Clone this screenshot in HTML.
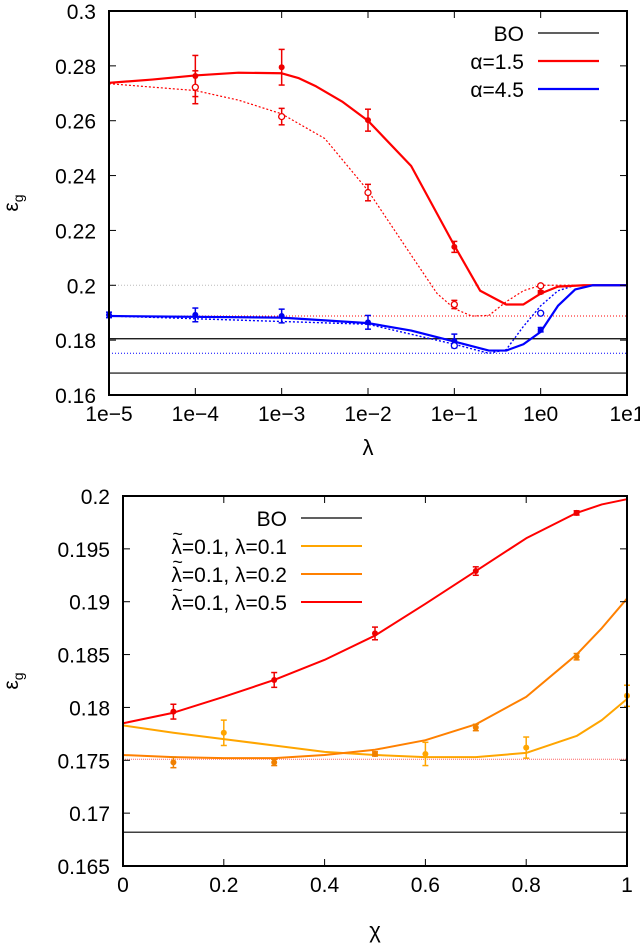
<!DOCTYPE html>
<html><head><meta charset="utf-8"><style>
html,body{margin:0;padding:0;background:#fff;}
svg{display:block;font-family:"Liberation Sans",sans-serif;}
</style></head><body>
<svg id="s" width="640" height="944" xmlns="http://www.w3.org/2000/svg"></svg>
<script>
// ---- top chart data (x = log10 lambda) ----
const topXTicks = [-5,-4,-3,-2,-1,0,1];
const topXLabels = ["1e\u22125","1e\u22124","1e\u22123","1e\u22122","1e\u22121","1e0","1e1"];
const topYTicks = [0.16,0.18,0.2,0.22,0.24,0.26,0.28,0.3];
const topYLabels = ["0.16","0.18","0.2","0.22","0.24","0.26","0.28","0.3"];
const redSolidX = [-5,-4.5,-4,-3.5,-3,-2.8,-2.6,-2.3,-2,-1.5,-1,-0.7,-0.4,-0.2,0,0.2,0.5,1];
const redSolidY = [0.2738,0.275,0.2765,0.2775,0.2773,0.2755,0.2725,0.267,0.260,0.2435,0.2145,0.198,0.193,0.193,0.197,0.1995,0.2,0.2];
const redPtsX = [-4,-3,-2,-1,0];
const redPtsY = [0.2763,0.2795,0.2602,0.214,0.1975];
const redPtsE = [0.0075,0.0065,0.004,0.002,0.0005];
const redDotX = [-5,-4,-3.5,-3,-2.5,-2,-1.5,-1.2,-1,-0.8,-0.6,-0.4,-0.2,0,1];
const redDotY = [0.2735,0.271,0.2675,0.2625,0.2535,0.2345,0.211,0.197,0.1915,0.1888,0.189,0.194,0.198,0.2,0.2];
const redOpenX = [-4,-3,-2,-1,0];
const redOpenY = [0.2722,0.2615,0.2338,0.193,0.1998];
const redOpenE = [0.006,0.003,0.003,0.0015,0.0005];
const blueSolidX = [-5,-3,-2,-1.5,-1,-0.6,-0.4,-0.2,0,0.2,0.4,0.6,1];
const blueSolidY = [0.1888,0.1882,0.1862,0.1835,0.1795,0.1762,0.1762,0.1785,0.183,0.1925,0.1985,0.2,0.2];
const bluePtsX = [-5,-4,-3,-2,-1,0];
const bluePtsY = [0.1892,0.1892,0.1888,0.1865,0.1797,0.1838];
const bluePtsE = [0.001,0.0025,0.0025,0.0025,0.0025,0.0008];
const blueDotX = [-5,-2,-1,-0.6,-0.4,-0.2,0,0.2,0.4,1];
const blueDotY = [0.1888,0.1858,0.1785,0.1752,0.1765,0.185,0.1925,0.198,0.2,0.2];
const blueOpenX = [-1,0];
const blueOpenY = [0.178,0.1898];
const topBO = [0.1805,0.168];
// ---- bottom chart data ----
const botXTicks = [0,0.2,0.4,0.6,0.8,1];
const botXLabels = ["0","0.2","0.4","0.6","0.8","1"];
const botYTicks = [0.165,0.17,0.175,0.18,0.185,0.19,0.195,0.2];
const botYLabels = ["0.165","0.17","0.175","0.18","0.185","0.19","0.195","0.2"];
const chiCurve = [0,0.1,0.2,0.3,0.4,0.5,0.6,0.7,0.8,0.9,0.95,1];
const l05Curve = [0.1785,0.1795,0.181,0.1826,0.1845,0.1868,0.1898,0.1929,0.196,0.1984,0.1992,0.1997];
const l02Curve = [0.1755,0.1753,0.1752,0.1752,0.1755,0.176,0.1769,0.1784,0.181,0.185,0.1875,0.1903];
const l01Curve = [0.1783,0.1776,0.177,0.1764,0.1758,0.1755,0.1753,0.1753,0.1757,0.1773,0.1788,0.1808];
const l05PtsX = [0.1,0.3,0.5,0.7,0.9];
const l05PtsY = [0.1796,0.1826,0.187,0.1929,0.1984];
const l05PtsE = [0.0007,0.0007,0.0006,0.0004,0.0002];
const l02PtsX = [0.1,0.3,0.5,0.7,0.9];
const l02PtsY = [0.1748,0.1748,0.1756,0.1781,0.1848];
const l02PtsE = [0.0005,0.0003,0.0002,0.0003,0.0003];
const l01PtsX = [0.2,0.6,0.8,1.0];
const l01PtsY = [0.1776,0.1756,0.1762,0.1811];
const l01PtsE = [0.0012,0.0011,0.001,0.001];
const botBO = 0.1682;
const botRef = 0.1751;

const NS="http://www.w3.org/2000/svg";
const svg=document.getElementById('s');
function mk(tag,attrs,parent){const e=document.createElementNS(NS,tag);for(const k in attrs)e.setAttribute(k,attrs[k]);(parent||svg).appendChild(e);return e;}
function scale(d0,d1,r0,r1){return v=>r0+(v-d0)/(d1-d0)*(r1-r0);}

const tx=scale(-5,1,109,627), ty=scale(0.16,0.3,395,11);
const bx=scale(0,1,123,627), by=scale(0.165,0.2,866,496);

function frame(name,x0,x1,y0,y1,xs,ys,xt,xl,yt,yl,xlab,labY){
  const g=mk('g',{});
  
  
  xt.forEach((t,i)=>{const x=xs(t);
    mk('line',{x1:x,x2:x,y1:y1,y2:y1-7,stroke:'#000','stroke-width':1},g);
    mk('line',{x1:x,x2:x,y1:y0,y2:y0+7,stroke:'#000','stroke-width':1},g);
    const tl=mk('text',{x:x,y:y1+26,'font-size':21,'text-anchor':'middle'},g);tl.textContent=xl[i];
    
    
  });
  yt.forEach((t,i)=>{const y=ys(t);
    mk('line',{x1:x0,x2:x0+7,y1:y,y2:y,stroke:'#000','stroke-width':1},g);
    mk('line',{x1:x1,x2:x1-7,y1:y,y2:y,stroke:'#000','stroke-width':1},g);
    const tl=mk('text',{x:x0-13,y:y+8,'font-size':21,'text-anchor':'end'},g);tl.textContent=yl[i];
    
    
  });
  const yT=mk('text',{x:0,y:0,'font-size':21,transform:`translate(18,${(y0+y1)/2}) rotate(-90)`,'text-anchor':'middle'},g);
  yT.innerHTML='ε<tspan font-size="14" dy="5">g</tspan>';
  
  
  const xT=mk('text',{x:(x0+x1)/2,y:labY,'font-size':22,'text-anchor':'middle'},g);xT.textContent=xlab;
  
  
}
function line(xs,ys,X,Y,color,w,dash,name){
  const p=mk('polyline',{points:X.map((x,i)=>xs(x)+','+ys(Y[i])).join(' '),fill:'none',stroke:color,'stroke-width':w,'stroke-linejoin':'round'});
  if(dash)p.setAttribute('stroke-dasharray',dash);
  
  
}
function hline(x0,x1,y,color,w,dash,name){
  const l=mk('line',{x1:x0,x2:x1,y1:y,y2:y,stroke:color,'stroke-width':w});
  if(dash)l.setAttribute('stroke-dasharray',dash);
  
  
}
function pts(xs,ys,X,Y,E,color,open,name){
  X.forEach((x,i)=>{const cx=xs(x),cy=ys(Y[i]);
    const g=mk('g',{});
    
    
    if(E){const e=E[i];const ya=ys(Y[i]+e),yb=ys(Y[i]-e);
      mk('line',{x1:cx,x2:cx,y1:ya,y2:yb,stroke:color,'stroke-width':1.5},g);
      mk('line',{x1:cx-3,x2:cx+3,y1:ya,y2:ya,stroke:color,'stroke-width':1.5},g);
      mk('line',{x1:cx-3,x2:cx+3,y1:yb,y2:yb,stroke:color,'stroke-width':1.5},g);}
    if(open)mk('circle',{cx:cx,cy:cy,r:3,fill:'#fff',stroke:color,'stroke-width':1.3},g);
    else mk('circle',{cx:cx,cy:cy,r:3,fill:color},g);
  });
}
function legend(x,y,label,color,w,tilde,name){
  const g=mk('g',{});
  
  
  const t=mk('text',{x:x,y:y+8,'font-size':21,'text-anchor':'end'},g);
  t.textContent=label;
  if(tilde){
    const w2=t.getComputedTextLength();
    const tt=mk('text',{x:x-w2+1,y:y-6,'font-size':18},g);
    tt.textContent='~';
  }
  mk('line',{x1:x+14,x2:x+75,y1:y,y2:y,stroke:color,'stroke-width':w},g);
}

// ---- TOP ----
hline(109,627,ty(0.2),'#bbb',1,'1,2','ref-line-0.2');
hline(109,627,ty(0.1888),'#f00',1,'1,2','red-ref-line');
hline(109,627,ty(0.1752),'#00f',1,'1,2','blue-ref-line');
topBO.forEach(v=>hline(109,627,ty(v),'#000',1.2,null,'bo-line'));
line(tx,ty,redDotX,redDotY,'#f00',1.2,'2,2','red-dotted-curve');
line(tx,ty,blueDotX,blueDotY,'#00f',1.4,'2,2','blue-dotted-curve');
line(tx,ty,redSolidX,redSolidY,'#f00',2.2,null,'red-solid-curve');
line(tx,ty,blueSolidX,blueSolidY,'#00f',2.2,null,'blue-solid-curve');
pts(tx,ty,redPtsX,redPtsY,redPtsE,'#e00',false,'red-point');
pts(tx,ty,redOpenX,redOpenY,redOpenE,'#e00',true,'red-open-point');
pts(tx,ty,bluePtsX,bluePtsY,bluePtsE,'#00e',false,'blue-point');
pts(tx,ty,blueOpenX,blueOpenY,null,'#00e',true,'blue-open-point');
mk('rect',{x:109,y:11,width:518,height:384,fill:'none',stroke:'#000','stroke-width':2});
frame('top-axes',109,627,11,395,tx,ty,topXTicks,topXLabels,topYTicks,topYLabels,'λ',455);
legend(524,33,'BO','#000',1.2,false,'legend-bo');
legend(524,61,'α=1.5','#f00',2.2,false,'legend-alpha-1.5');
legend(524,89,'α=4.5','#00f',2.2,false,'legend-alpha-4.5');

// ---- BOTTOM ----
hline(123,627,by(botRef),'#f66',1,'1,1','ref-line-dotted');
hline(123,627,by(botBO),'#000',1.2,null,'bo-line');
line(bx,by,chiCurve,l01Curve,'#ffa500',2,null,'curve-lambda-0.1');
line(bx,by,chiCurve,l02Curve,'#ff8000',2,null,'curve-lambda-0.2');
line(bx,by,chiCurve,l05Curve,'#f00',2,null,'curve-lambda-0.5');
pts(bx,by,l01PtsX,l01PtsY,l01PtsE,'#ffa500',false,'point-lambda-0.1');
pts(bx,by,l02PtsX,l02PtsY,l02PtsE,'#f08000',false,'point-lambda-0.2');
pts(bx,by,l05PtsX,l05PtsY,l05PtsE,'#e00',false,'point-lambda-0.5');
mk('rect',{x:123,y:496,width:504,height:370,fill:'none',stroke:'#000','stroke-width':2});
frame('bottom-axes',123,627,496,866,bx,by,botXTicks,botXLabels,botYTicks,botYLabels,'χ',938);
legend(287,518,'BO','#000',1.2,false,'legend-bo-bottom');
legend(287,546,'λ=0.1, λ=0.1','#ffa500',2,true,'legend-lambda-0.1');
legend(287,574,'λ=0.1, λ=0.2','#ff8000',2,true,'legend-lambda-0.2');
legend(287,602,'λ=0.1, λ=0.5','#f00',2,true,'legend-lambda-0.5');
</script>
</body></html>
